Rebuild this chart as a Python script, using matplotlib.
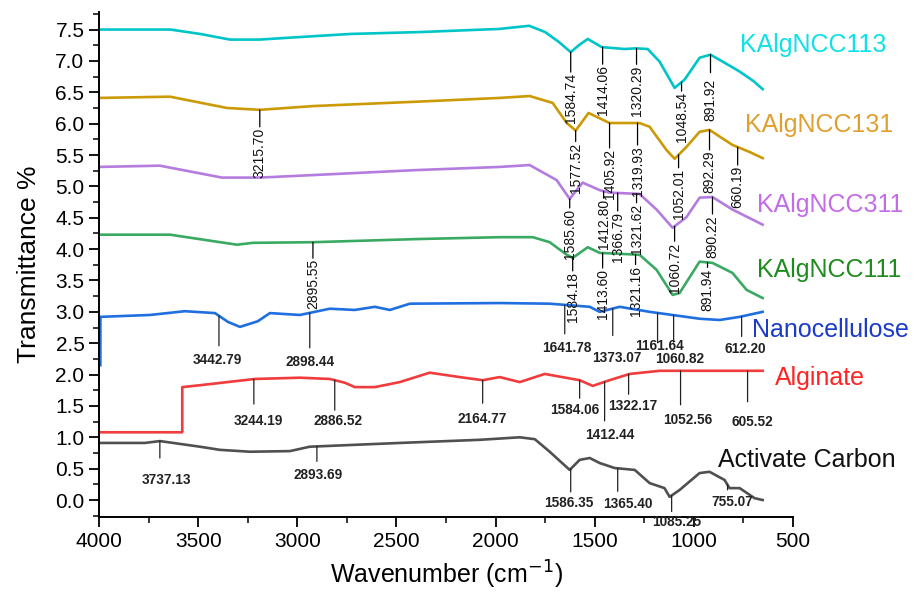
import matplotlib
matplotlib.use("Agg")
import matplotlib.pyplot as plt
from matplotlib.ticker import MultipleLocator, FormatStrFormatter
import numpy as np

plt.rcParams['font.family'] = ['Liberation Sans', 'DejaVu Sans']

# spectra (wavenumber cm-1, transmittance, stacked with offsets)
ncc113_w = [4000, 3640, 3490, 3340, 3190, 2990, 2730, 2380, 1980, 1830, 1750, 1680, 1621, 1580,
            1535, 1465, 1350, 1290, 1233, 1173, 1097, 1047, 971, 916, 850, 769, 700, 653]
ncc113_t = [7.50, 7.50, 7.43, 7.34, 7.34, 7.38, 7.43, 7.46, 7.51, 7.56, 7.46, 7.30, 7.14, 7.25,
            7.35, 7.22, 7.19, 7.20, 7.19, 6.99, 6.57, 6.70, 7.05, 7.10, 6.98, 6.83, 6.68, 6.55]

ncc131_w = [4000, 3642, 3355, 3189, 2921, 2397, 1979, 1828, 1712, 1641, 1596, 1531, 1425, 1274,
            1223, 1138, 1097, 1037, 971, 921, 805, 720, 653]
ncc131_t = [6.41, 6.43, 6.25, 6.22, 6.28, 6.35, 6.41, 6.44, 6.33, 6.01, 5.89, 6.17, 6.01, 6.01,
            5.95, 5.58, 5.44, 5.63, 5.87, 5.90, 5.66, 5.55, 5.45]

ncc311_w = [4000, 3693, 3380, 3189, 2921, 2397, 1979, 1828, 1692, 1626, 1561, 1475, 1425, 1274,
            1188, 1107, 1037, 971, 906, 805, 653]
ncc311_t = [5.31, 5.33, 5.14, 5.14, 5.18, 5.26, 5.31, 5.34, 5.10, 4.80, 5.06, 4.94, 4.90, 4.88,
            4.63, 4.34, 4.51, 4.82, 4.83, 4.63, 4.39]

ncc111_w = [4000, 3642, 3304, 3224, 2921, 2397, 1979, 1812, 1727, 1641, 1611, 1535, 1475, 1274,
            1188, 1107, 1072, 971, 906, 805, 734, 653]
ncc111_t = [4.23, 4.23, 4.07, 4.10, 4.11, 4.16, 4.19, 4.19, 4.11, 3.91, 3.86, 4.03, 3.94, 3.91,
            3.67, 3.27, 3.30, 3.80, 3.78, 3.62, 3.35, 3.22]

nano_w = [3993, 3993, 3743, 3567, 3415, 3350, 3289, 3199, 3138, 2987, 2836, 2710, 2609, 2533,
          2432, 1979, 1727, 1525, 1475, 1374, 1223, 971, 870, 769, 653]
nano_t = [2.15, 2.92, 2.95, 3.01, 2.98, 2.84, 2.76, 2.85, 2.98, 2.95, 3.05, 3.03, 3.08, 3.03,
          3.13, 3.14, 3.13, 3.08, 3.00, 3.08, 3.00, 2.89, 2.87, 2.92, 3.00]

alg_w = [4000, 3580, 3580, 3491, 3214, 2987, 2836, 2760, 2710, 2609, 2483, 2332, 2181, 2065,
         1979, 1878, 1752, 1576, 1510, 1425, 1324, 1172, 653]
alg_t = [1.08, 1.08, 1.80, 1.83, 1.93, 1.95, 1.93, 1.87, 1.80, 1.80, 1.88, 2.03, 1.96, 1.91,
         1.96, 1.88, 2.01, 1.91, 1.82, 1.91, 2.01, 2.06, 2.06]

ac_w = [4000, 3768, 3693, 3491, 3390, 3239, 3037, 2937, 2483, 2080, 1878, 1802, 1727, 1626,
        1576, 1525, 1475, 1399, 1298, 1223, 1148, 1122, 1072, 971, 921, 845, 820, 769, 694, 653]
ac_t = [0.91, 0.91, 0.94, 0.85, 0.80, 0.77, 0.78, 0.85, 0.91, 0.96, 1.00, 0.97, 0.77, 0.48,
        0.64, 0.67, 0.59, 0.51, 0.48, 0.27, 0.19, 0.05, 0.16, 0.43, 0.45, 0.32, 0.19, 0.19, 0.03, 0.00]

names = ['KAlgNCC113', 'KAlgNCC131', 'KAlgNCC311', 'KAlgNCC111',
         'Nanocellulose', 'Alginate', 'Activate Carbon']

# peak labels and where they sit on the axis
ncc113_pk = ['1584.74', '1414.06', '1320.29', '1048.54', '891.92']
ncc113_pw = [1621, 1460, 1289, 1062, 916]
ncc131_pk = ['3215.70', '1577.52', '1405.92', '1319.93', '1052.01', '892.29', '660.19']
ncc131_pw = [3189, 1596, 1425, 1284, 1077, 921, 779]
ncc311_pk = ['1585.60', '1412.80', '1366.79', '1321.62', '1060.72', '890.22']
ncc311_pw = [1626, 1455, 1384, 1289, 1097, 906]
ncc111_pk = ['2895.55', '1584.18', '1413.60', '1321.16', '891.94']
ncc111_pw = [2921, 1611, 1460, 1294, 931]
nano_pk = ['3442.79', '2898.44', '1641.78', '1373.07', '1161.64', '1060.82', '612.20']
nano_pw = [3395, 2937, 1651, 1409, 1183, 1102, 759]
alg_pk = ['3244.19', '2886.52', '2164.77', '1584.06', '1412.44', '1322.17', '1052.56', '605.52']
alg_pw = [3219, 2811, 2065, 1576, 1450, 1329, 1067, 729]
ac_pk = ['3737.13', '2893.69', '1586.35', '1365.40', '1085.25', '755.07']
ac_pw = [3693, 2901, 1621, 1384, 1112, 830]

line_cols = ['#00C5C8', '#CC9A06', '#B47CDE', '#3AAA62', '#1F6FE0', '#F03C3C', '#505050']
text_cols = ['#10E0E8', '#E0A030', '#C46CE8', '#1E8C1E', '#1A3CC8', '#FF2424', '#111111']

fig = plt.figure(figsize=(9.14, 5.96), dpi=100)
ax = fig.add_axes([0.1083, 0.1326, 0.7593, 0.8473])

series = [(ncc113_w, ncc113_t), (ncc131_w, ncc131_t), (ncc311_w, ncc311_t), (ncc111_w, ncc111_t),
          (nano_w, nano_t), (alg_w, alg_t), (ac_w, ac_t)]
for (w, t), c in zip(series, line_cols):
    ax.plot(w, t, color=c, lw=1.9, solid_joinstyle='round')


def curve_y(w, wn, tr):
    return np.interp(w, np.array(wn)[::-1], np.array(tr)[::-1])


def vmark(wn, tr, labels, pos, lens, gaps=None):
    # vertical labels hanging under a short stick
    for i, (lab, w) in enumerate(zip(labels, pos)):
        yc = curve_y(w, wn, tr)
        L = lens[i]
        g = gaps[i] if gaps else 0
        ax.annotate('', xy=(w, yc), xytext=(0, -L), textcoords='offset pixels',
                    arrowprops=dict(arrowstyle='-', color='k', lw=0.9, shrinkA=0, shrinkB=0))
        ax.annotate(lab, xy=(w, yc), xytext=(0, -L - g - 1), textcoords='offset pixels',
                    rotation=90, ha='center', va='top', fontsize=10, color='#111111')


def hmark(wn, tr, labels, pos, lens, tcs, dxs):
    # horizontal labels under a stick
    for lab, w, L, tc, dx in zip(labels, pos, lens, tcs, dxs):
        yc = curve_y(w, wn, tr)
        ax.annotate('', xy=(w, yc), xytext=(0, -L), textcoords='offset pixels',
                    arrowprops=dict(arrowstyle='-', color='#222222', lw=0.9, shrinkA=0, shrinkB=0))
        ax.annotate(lab, xy=(w, yc), xytext=(dx, -tc), textcoords='offset pixels',
                    ha='center', va='center', fontsize=9.8, fontweight='bold', color='#222222')


vmark(ncc113_w, ncc113_t, ncc113_pk, ncc113_pw, [20, 17, 16, 9, 18], [0, 0, 0, 0, 5])
vmark(ncc131_w, ncc131_t, ncc131_pk, ncc131_pw, [17, 11, 25, 22, 13, 20, 18])
vmark(ncc311_w, ncc311_t, ncc311_pk, ncc311_pw, [9, 7, 18, 9, 15, 17])
vmark(ncc111_w, ncc111_t, ncc111_pk, ncc111_pw, [16, 13, 15, 10, 5])
hmark(nano_w, nano_t, nano_pk, nano_pw, [30, 35, 29, 27, 30, 27, 20],
      [44, 49, 43, 49, 33, 44, 33], [-2, 0, 2, 4, 2, 6, 4])
hmark(alg_w, alg_t, alg_pk, alg_pw, [25, 30, 23, 18, 39, 20, 34, 31],
      [42, 41, 39, 30, 53, 32, 49, 51], [4, 3, 0, -5, 5, 4, 7, 5])
hmark(ac_w, ac_t, ac_pk, ac_pw, [17, 15, 23, 23, 16, 5],
      [39, 29, 34, 36, 26, 17], [7, 1, -2, 10, 5, 5])

# sample names on the right
name_x = [769, 744, 679, 679, 709, 593, 880]
name_y = [7.26, 5.98, 4.70, 3.67, 2.71, 1.95, 0.64]
for n, x, y, c in zip(names, name_x, name_y, text_cols):
    ax.text(x, y, n, color=c, fontsize=18, ha='left', va='center')

ax.set_xlim(4000, 500)
ax.set_ylim(-0.27, 7.78)
ax.xaxis.set_major_locator(MultipleLocator(500))
ax.xaxis.set_minor_locator(MultipleLocator(250))
ax.yaxis.set_major_locator(MultipleLocator(0.5))
ax.yaxis.set_minor_locator(MultipleLocator(0.25))
ax.yaxis.set_major_formatter(FormatStrFormatter('%.1f'))
ax.tick_params(which='major', direction='out', length=7, width=1.3, labelsize=15)
ax.tick_params(which='minor', direction='out', length=4, width=1.1)
for s in ['top', 'right']:
    ax.spines[s].set_visible(False)
for s in ['left', 'bottom']:
    ax.spines[s].set_linewidth(1.4)

ax.set_xlabel('Wavenumber (cm$^{-1}$)', fontsize=18, labelpad=6)
ax.set_ylabel('Transmittance %', fontsize=19, labelpad=10)

fig.savefig('out.png', dpi=100)
